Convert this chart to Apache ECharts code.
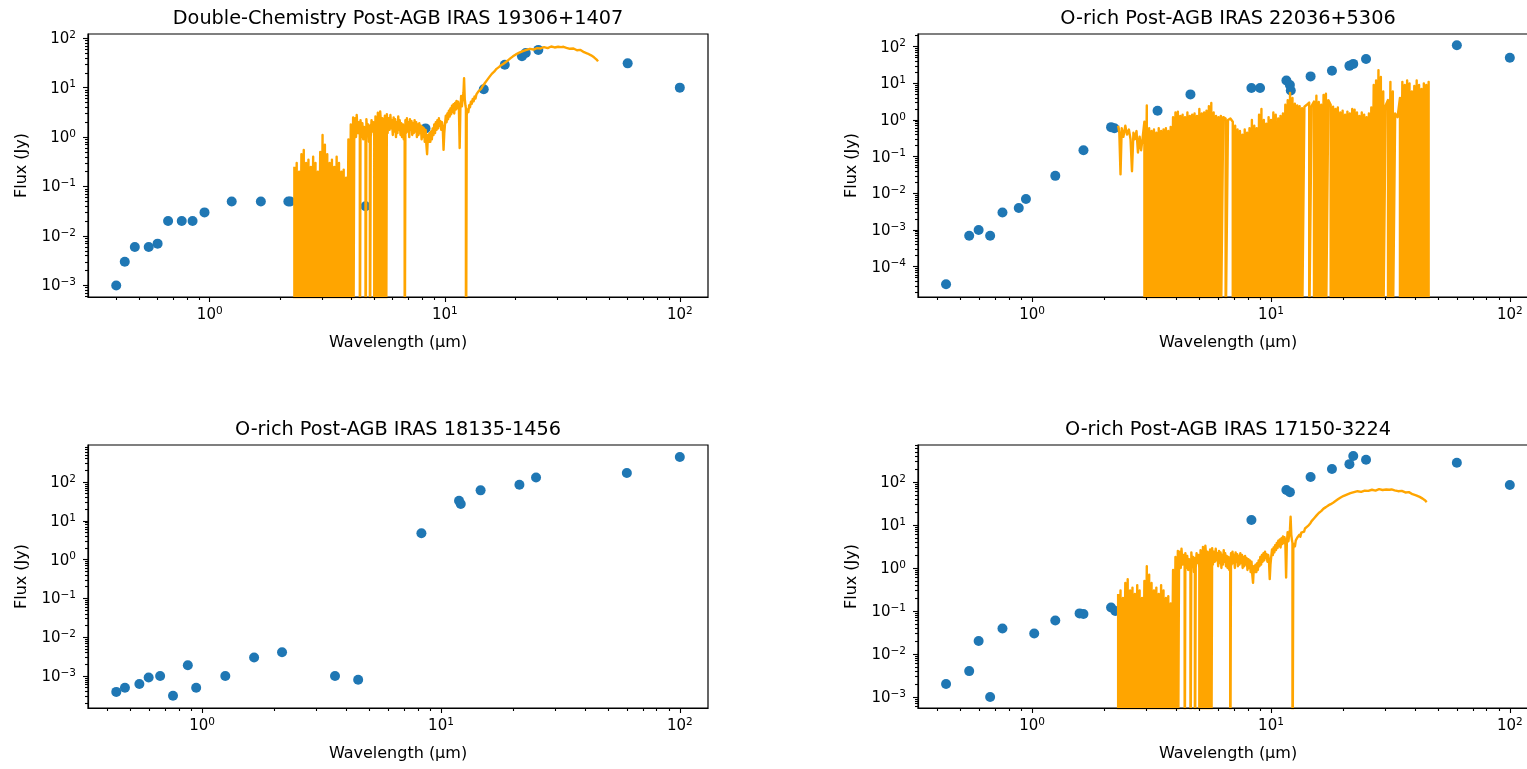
<!DOCTYPE html>
<html>
<head>
<meta charset="utf-8">
<script src="https://cdn.jsdelivr.net/npm/echarts@6/dist/echarts.min.js"></script>
<style>
  html, body { margin: 0; padding: 0; background: #ffffff; }
  #chart { width: 1527px; height: 769px; }
</style>
</head>
<body>
<div id="chart"></div>
<script>
// ---------- panel titles ----------
const TITLES = [
  'Double-Chemistry Post-AGB IRAS 19306+1407',
  'O-rich Post-AGB IRAS 22036+5306',
  'O-rich Post-AGB IRAS 18135-1456',
  'O-rich Post-AGB IRAS 17150-3224'
];
const X_NAME = 'Wavelength (\u00b5m)';
const Y_NAME = 'Flux (Jy)';

// ---------- tick values ----------
const X_MAJOR = [1, 10, 100];
const Y_MAJOR = [1e-5, 1e-4, 1e-3, 1e-2, 1e-1, 1, 10, 100, 1000];
const MINOR_STEPS = [2, 3, 4, 5, 6, 7, 8, 9];
const MINOR_DECADES = [1e-6, 1e-5, 1e-4, 1e-3, 1e-2, 1e-1, 1, 10, 100];

// ---------- photometry: wavelength (micron) / flux (Jy) ----------
const tlWl   = [0.40, 0.435, 0.48, 0.55, 0.60, 0.665, 0.76, 0.845, 0.95, 1.24, 1.65, 2.16, 2.20, 4.6, 8.28, 14.65, 18.0, 21.3, 22.1, 25.0, 60.0, 100.0];
const tlFlux = [0.001, 0.003, 0.006, 0.006, 0.007, 0.020, 0.020, 0.020, 0.030, 0.050, 0.050, 0.050, 0.050, 0.040, 1.5, 9.3, 29, 43, 50, 58, 31, 10];

const trWl   = [0.436, 0.545, 0.597, 0.667, 0.751, 0.879, 0.942, 1.25, 1.64, 2.14, 2.21, 3.35, 4.6, 8.28, 9.0, 11.6, 12.0, 12.1, 14.65, 18.0, 21.3, 22.1, 25.0, 60.0, 100.0];
const trFlux = [3.3e-5, 7e-4, 1e-3, 7e-4, 3e-3, 4e-3, 7e-3, 0.03, 0.15, 0.64, 0.60, 1.8, 5.0, 7.5, 7.5, 12, 9, 6.4, 15.5, 22, 30, 34, 46, 110, 50];

const blWl   = [0.437, 0.475, 0.546, 0.597, 0.667, 0.755, 0.871, 0.944, 1.25, 1.65, 2.16, 3.6, 4.5, 8.28, 11.9, 12.1, 14.65, 21.3, 25.0, 60.0, 100.0];
const blFlux = [3.9e-4, 5e-4, 6.2e-4, 9.2e-4, 1e-3, 3.1e-4, 1.9e-3, 5e-4, 1e-3, 3e-3, 4.1e-3, 1e-3, 8e-4, 4.8, 33, 27, 61, 85, 130, 170, 440];

const brWl   = [0.436, 0.545, 0.597, 0.667, 0.751, 1.02, 1.25, 1.58, 1.64, 2.14, 2.23, 8.28, 11.6, 12.0, 14.65, 18.0, 21.3, 22.1, 25.0, 60.0, 100.0];
const brFlux = [2e-3, 4e-3, 0.02, 1e-3, 0.039, 0.03, 0.06, 0.088, 0.085, 0.12, 0.10, 13, 65, 58, 130, 200, 260, 400, 330, 280, 85];

// ---------- spectra: [wavelength, flux]; 1e-6 marks a dropout sample ----------
const specA = [
  [2.291,0.25],[2.291,1e-6],[2.344,0.30],[2.344,1e-6],[2.399,0.20],[2.399,1e-6],
  [2.455,0.45],[2.455,1e-6],[2.512,0.55],[2.512,1e-6],[2.570,0.30],[2.570,1e-6],
  [2.630,0.35],[2.630,1e-6],[2.692,0.25],[2.692,1e-6],[2.754,0.40],[2.754,1e-6],
  [2.818,0.30],[2.818,1e-6],[2.884,0.20],[2.884,1e-6],[2.951,0.50],[2.951,1e-6],
  [3.020,1.10],[3.020,1e-6],[3.090,0.70],[3.090,1e-6],[3.162,0.45],[3.162,1e-6],
  [3.236,0.30],[3.236,1e-6],[3.311,0.35],[3.311,1e-6],[3.388,0.25],[3.388,1e-6],
  [3.467,0.40],[3.467,1e-6],[3.548,0.30],[3.548,1e-6],[3.631,0.20],[3.631,1e-6],
  [3.715,0.22],[3.715,1e-6],[3.802,0.15],[3.802,1e-6],[3.890,0.90],[3.890,1e-6],
  [3.981,1.80],[3.981,1e-6],[4.074,2.50],[4.074,1e-6],
  [4.12,1.3],[4.15,2.4],[4.19,1.0],[4.22,2.8],[4.26,1.2],[4.30,2.0],
  [4.35,1.1],[4.35,1e-6],
  [4.38,2.2],[4.42,1.0],[4.46,1.9],[4.50,0.9],[4.54,1.6],
  [4.60,1.2],[4.60,1e-6],
  [4.64,2.3],[4.68,1.1],[4.72,1.8],[4.76,0.8],
  [4.80,1.7],[4.80,1e-6],
  [4.84,1.0],[4.88,2.2],[4.93,1.3],[4.97,2.0],
  [5.01,1.0],[5.01,1e-6],[5.07,2.6],[5.13,1.4],[5.13,1e-6],[5.19,3.1],[5.25,2.0],[5.25,1e-6],
  [5.31,3.3],[5.37,1.6],[5.37,1e-6],[5.43,2.4],[5.50,1.3],[5.50,1e-6],[5.56,2.7],[5.62,1.6],[5.62,1e-6],
  [5.67,2.9],[5.71,1.2],[5.76,2.4],[5.82,1.4],[5.87,2.8],[5.92,1.5],[5.96,2.2],[6.01,1.1],
  [6.06,2.5],[6.10,1.3],[6.15,2.3],[6.20,1.0],[6.24,2.0],[6.29,1.2],[6.34,2.6],[6.38,1.4],
  [6.43,2.2],[6.48,1.1],[6.53,1.9],[6.58,1.0],[6.64,1.8],[6.69,0.9],
  [6.75,1.5],[6.75,1e-6],
  [6.80,2.2],[6.84,1.2],[6.90,2.4],[6.95,1.3],[7.00,2.0],[7.06,1.0],[7.11,2.3],[7.16,1.4],
  [7.22,2.1],[7.27,1.1],[7.33,1.9],[7.38,1.2],[7.44,2.2],[7.50,1.3],[7.56,2.0],[7.61,1.0],
  [7.67,1.8],[7.73,1.1],[7.79,1.9],[7.85,1.2],[7.91,1.7],[7.97,0.9],[8.04,1.6],[8.10,1.0],
  [8.16,1.5],[8.22,0.8],[8.29,1.4],[8.35,0.7],[8.41,0.45],[8.48,1.1],[8.55,0.8],[8.61,1.2],
  [8.68,0.8],[8.75,1.3],[8.81,0.9],[8.88,1.5],[8.95,1.1],[9.02,1.8],[9.09,1.2],[9.16,2.0],
  [9.23,1.4],[9.30,2.2],[9.37,1.5],[9.44,2.4],[9.51,1.7],[9.58,2.1],[9.66,1.4],[9.73,2.0],
  [9.80,1.6],[9.88,0.55],[9.95,1.2],[10.03,1.9],[10.10,2.7],[10.18,2.0],[10.26,3.0],[10.33,2.3],
  [10.41,3.4],[10.49,2.6],[10.57,3.8],[10.65,2.9],[10.73,4.3],[10.81,3.2],[10.89,4.6],[10.97,3.0],
  [11.06,4.9],[11.14,3.6],[11.22,5.4],[11.31,3.8],[11.39,5.2],[11.48,4.1],[11.57,0.6],[11.65,3.7],
  [11.74,6.8],[11.83,4.2],[11.92,6.0],[12.01,8.0],[12.08,15.5],[12.16,6.0],[12.24,4.4],
  [12.30,3.8],[12.30,1e-6],
  [12.40,2.8],[12.50,3.6],[12.60,3.2],[12.70,4.4],[12.80,4.0],[12.92,5.2],[13.03,4.7],[13.15,5.9],
  [13.27,5.3],[13.39,6.6],[13.51,6.0],[13.63,7.3],[13.76,7.0],[13.88,8.3],[14.01,8.0],[14.14,9.0],
  [14.29,9.5],[14.45,10.5],[14.62,11],[14.79,12.3],[14.96,13],[15.13,14.2],[15.31,15],[15.49,16.5],
  [15.67,17.5],[15.85,19],[16.03,20],[16.22,21],[16.41,22],[16.60,24],[16.79,25],[16.98,26],
  [17.18,27],[17.38,28.5],[17.58,29],[17.78,30.5],[17.99,31],[18.20,33],[18.41,34],[18.62,36],
  [18.84,37],[19.06,39.5],[19.28,41],[19.50,43],[19.72,44],[20.07,47],[20.42,48],[20.77,51],
  [21.13,52],[21.50,55],[21.88,56],[22.26,58],[22.65,59],[23.04,61],[23.44,62],[23.85,59],
  [24.27,60],[24.69,63],[25.12,65],[25.56,62],[26.00,63],[26.46,66],[26.92,67],[27.39,63],
  [27.86,65],[28.35,68],[28.84,69],[29.34,65],[29.85,64],[30.37,67],[30.90,68],[31.26,66],
  [31.62,70],[31.99,67],[32.36,66],[32.93,64],[33.50,63],[34.08,61],[34.67,59],[35.28,62],
  [35.89,61],[36.52,57],[37.15,55],[37.80,58],[38.46,56],[39.13,52],[39.81,50],[40.50,49],
  [41.21,47],[41.93,45],[42.66,43],[43.15,41],[43.65,39],[44.25,37],[44.87,34]
];

const specB = [
  [2.291,0.70],[2.317,0.45],[2.344,0.033],[2.371,0.60],[2.410,0.35],[2.455,0.70],
  [2.495,0.40],[2.541,0.55],[2.582,0.30],[2.618,0.04],[2.655,0.45],[2.692,0.30],
  [2.735,0.50],[2.773,0.13],[2.818,0.35],[2.858,0.15],[2.897,0.30],
  [2.951,0.9],[2.951,1e-6],[3.020,2.5],[3.020,1e-6],[3.090,0.6],[3.090,1e-6],
  [3.162,0.5],[3.162,1e-6],[3.236,0.55],[3.236,1e-6],[3.311,0.45],[3.311,1e-6],
  [3.388,0.6],[3.388,1e-6],[3.467,0.5],[3.467,1e-6],[3.548,0.55],[3.548,1e-6],
  [3.631,0.6],[3.631,1e-6],[3.715,0.5],[3.715,1e-6],[3.802,0.65],[3.802,1e-6],
  [3.890,1.2],[3.890,1e-6],[3.981,1.6],[3.981,1e-6],[4.074,1.7],[4.074,1e-6],
  [4.169,1.3],[4.169,1e-6],[4.266,1.4],[4.266,1e-6],[4.365,1.2],[4.365,1e-6],
  [4.467,1.6],[4.467,1e-6],[4.571,1.3],[4.571,1e-6],[4.677,1.4],[4.677,1e-6],
  [4.786,1.5],[4.786,1e-6],[4.898,1.3],[4.898,1e-6],[5.012,2.0],[5.012,1e-6],
  [5.129,1.5],[5.129,1e-6],[5.248,1.6],[5.248,1e-6],[5.370,1.8],[5.370,1e-6],
  [5.495,2.4],[5.495,1e-6],[5.623,2.9],[5.623,1e-6],[5.754,1.6],[5.754,1e-6],
  [5.888,1.3],[5.888,1e-6],[6.026,1.2],[6.026,1e-6],[6.166,1.3],[6.166,1e-6],
  [6.310,1.2],[6.457,1.1],[6.457,1e-6],[6.607,1.0],[6.761,1.1],
  [6.918,0.9],[6.918,1e-6],[7.079,0.7],[7.079,1e-6],[7.244,0.55],[7.244,1e-6],
  [7.413,0.5],[7.413,1e-6],[7.586,0.4],[7.586,1e-6],[7.762,0.55],[7.762,1e-6],
  [7.943,0.45],[7.943,1e-6],[8.128,0.6],[8.128,1e-6],[8.318,1.0],[8.318,1e-6],
  [8.511,0.7],[8.511,1e-6],[8.710,0.6],[8.710,1e-6],[8.913,1.4],[8.913,1e-6],
  [9.120,2.0],[9.120,1e-6],[9.333,1.0],[9.333,1e-6],[9.550,0.8],[9.550,1e-6],
  [9.772,1.2],[9.772,1e-6],[10.00,1.0],[10.00,1e-6],[10.23,1.6],[10.23,1e-6],
  [10.47,1.4],[10.47,1e-6],[10.72,1.1],[10.72,1e-6],[10.96,1.3],[10.96,1e-6],
  [11.22,1.5],[11.22,1e-6],[11.48,2.6],[11.48,1e-6],[11.75,3.5],[11.75,1e-6],
  [12.02,5.5],[12.02,1e-6],[12.30,4.0],[12.30,1e-6],[12.59,2.8],[12.59,1e-6],
  [12.88,2.5],[12.88,1e-6],[13.18,2.4],[13.18,1e-6],[13.49,2.1],[13.49,1e-6],
  [13.80,2.3],[14.13,2.6],[14.45,3.0],[14.45,1e-6],[14.79,2.4],
  [15.14,3.2],[15.14,1e-6],[15.49,4.6],[15.49,1e-6],[15.85,3.1],[15.85,1e-6],
  [16.22,2.6],[16.22,1e-6],[16.60,4.8],[16.60,1e-6],[16.98,5.2],[16.98,1e-6],
  [17.38,3.5],[17.78,2.6],[17.78,1e-6],[18.20,2.3],[18.20,1e-6],
  [18.62,2.0],[18.62,1e-6],[19.05,2.2],[19.05,1e-6],[19.50,1.6],[19.50,1e-6],
  [19.95,1.8],[19.95,1e-6],[20.42,1.4],[20.42,1e-6],[20.89,1.7],[20.89,1e-6],
  [21.38,1.5],[21.38,1e-6],[21.88,2.0],[21.88,1e-6],[22.39,1.9],[22.39,1e-6],
  [22.91,1.6],[22.91,1e-6],[23.44,1.3],[23.44,1e-6],[23.99,1.6],[23.99,1e-6],
  [24.55,1.4],[24.55,1e-6],[25.12,1.2],[25.12,1e-6],[25.70,1.5],[25.70,1e-6],
  [26.30,2.2],[26.30,1e-6],[26.92,9.0],[26.92,1e-6],[27.54,12],[27.54,1e-6],
  [28.18,23],[28.18,1e-6],[28.84,15],[28.84,1e-6],[29.51,6.0],[29.51,1e-6],
  [30.20,2.5],[30.90,3.5],[30.90,1e-6],[31.62,11],[31.62,1e-6],[32.36,6],[32.36,1e-6],
  [33.11,1.5],[33.88,1.2],
  [34.67,4.0],[34.67,1e-6],[35.48,11],[35.48,1e-6],[36.31,9],[36.31,1e-6],
  [37.15,12],[37.15,1e-6],[38.02,10],[38.02,1e-6],[38.90,6],[38.90,1e-6],
  [39.81,8.5],[39.81,1e-6],[40.74,12],[40.74,1e-6],[41.69,9],[41.69,1e-6],
  [42.66,7],[42.66,1e-6],[43.65,10],[43.65,1e-6],[44.67,9],[44.67,1e-6],
  [45.71,11],[45.71,1e-6]
];

// ---------- layout ----------
const FONT = 'DejaVu Sans';
const BLUE = '#1f77b4';
const ORANGE = '#ffa500';
const PLOT_W = 620, PLOT_H = 263;

const panels = [
  { title: TITLES[0], left: 88,  top: 34,  xr: [0.3034, 131.8], yr: [5.83e-4, 121.6], wl: tlWl, flux: tlFlux, spec: specA },
  { title: TITLES[1], left: 918, top: 34,  xr: [0.3327, 131.2], yr: [1.49e-5, 222],   wl: trWl, flux: trFlux, spec: specB },
  { title: TITLES[2], left: 88,  top: 445, xr: [0.3327, 131.2], yr: [1.50e-4, 899],   wl: blWl, flux: blFlux, spec: null  },
  { title: TITLES[3], left: 918, top: 445, xr: [0.3327, 131.2], yr: [5.55e-4, 724],   wl: brWl, flux: brFlux, spec: specA }
];

const minorTicks = [];
MINOR_DECADES.forEach(d => MINOR_STEPS.forEach(s => minorTicks.push(+(s * d).toPrecision(3))));

function powLabel(v) {
  const e = Math.round(Math.log10(v));
  return '{b|10}{s|' + (e < 0 ? '\u2212' + (-e) : String(e)) + '}';
}

const RICH = {
  b: { fontFamily: FONT, fontSize: 15, color: '#000', lineHeight: 17, verticalAlign: 'bottom' },
  s: { fontFamily: FONT, fontSize: 10.5, color: '#000', lineHeight: 11, verticalAlign: 'top' }
};
const TICK_STYLE = { color: '#000', width: 1.1 };

const option = {
  animation: false,
  backgroundColor: '#ffffff',
  textStyle: { fontFamily: FONT },
  title: [], grid: [], xAxis: [], yAxis: [], series: []
};

panels.forEach((p, i) => {
  option.title.push({
    text: p.title, left: p.left + PLOT_W / 2, top: p.top - 25, textAlign: 'center', padding: 0,
    textStyle: { fontFamily: FONT, fontSize: 19.3, fontWeight: 'normal', color: '#000' }
  });
  option.grid.push({
    left: p.left, top: p.top, width: PLOT_W, height: PLOT_H,
    show: true, borderColor: '#000', borderWidth: 1.2, backgroundColor: 'transparent',
    containLabel: false, outerBoundsMode: 'none'
  });
  // main x axis: decades + labels + name
  option.xAxis.push({
    type: 'log', gridIndex: i, min: p.xr[0], max: p.xr[1], position: 'bottom', z: 5,
    name: X_NAME, nameLocation: 'middle', nameGap: 38,
    nameTextStyle: { fontFamily: FONT, fontSize: 16, color: '#000' },
    axisLine: { show: true, onZero: false, lineStyle: { color: '#000', width: 1.2 } },
    axisTick: { show: true, customValues: X_MAJOR, length: 5, lineStyle: TICK_STYLE },
    axisLabel: { show: true, customValues: X_MAJOR, margin: 9, formatter: powLabel, rich: RICH },
    splitLine: { show: false }, minorTick: { show: false }
  });
  // minor x ticks
  option.xAxis.push({
    type: 'log', gridIndex: i, min: p.xr[0], max: p.xr[1], position: 'bottom', z: 5,
    axisLine: { show: false },
    axisTick: { show: true, customValues: minorTicks, length: 3, lineStyle: TICK_STYLE },
    axisLabel: { show: false }, splitLine: { show: false }
  });
  // main y axis
  option.yAxis.push({
    type: 'log', gridIndex: i, min: p.yr[0], max: p.yr[1], position: 'left', z: 5,
    name: Y_NAME, nameLocation: 'middle', nameGap: 58,
    nameTextStyle: { fontFamily: FONT, fontSize: 16, color: '#000' },
    axisLine: { show: true, onZero: false, lineStyle: { color: '#000', width: 1.2 } },
    axisTick: { show: true, customValues: Y_MAJOR, length: 5, lineStyle: TICK_STYLE },
    axisLabel: { show: true, customValues: Y_MAJOR, margin: 12, formatter: powLabel, rich: RICH },
    splitLine: { show: false }, minorTick: { show: false }
  });
  // minor y ticks
  option.yAxis.push({
    type: 'log', gridIndex: i, min: p.yr[0], max: p.yr[1], position: 'left', z: 5,
    axisLine: { show: false },
    axisTick: { show: true, customValues: minorTicks, length: 3, lineStyle: TICK_STYLE },
    axisLabel: { show: false }, splitLine: { show: false }
  });

  option.series.push({
    type: 'scatter', xAxisIndex: 2 * i, yAxisIndex: 2 * i, z: 2, silent: true,
    symbol: 'circle', symbolSize: 10, itemStyle: { color: BLUE, opacity: 1 },
    data: p.wl.map((w, k) => [w, p.flux[k]])
  });
  if (p.spec) {
    option.series.push({
      type: 'line', xAxisIndex: 2 * i, yAxisIndex: 2 * i, z: 3, silent: true,
      showSymbol: false, symbol: 'none', clip: true, smooth: false,
      lineStyle: { color: ORANGE, width: 2.4, join: 'round', cap: 'butt' },
      data: p.spec
    });
  }
});

const chart = echarts.init(document.getElementById('chart'), null, { renderer: 'canvas' });
chart.setOption(option);
</script>
</body>
</html>
